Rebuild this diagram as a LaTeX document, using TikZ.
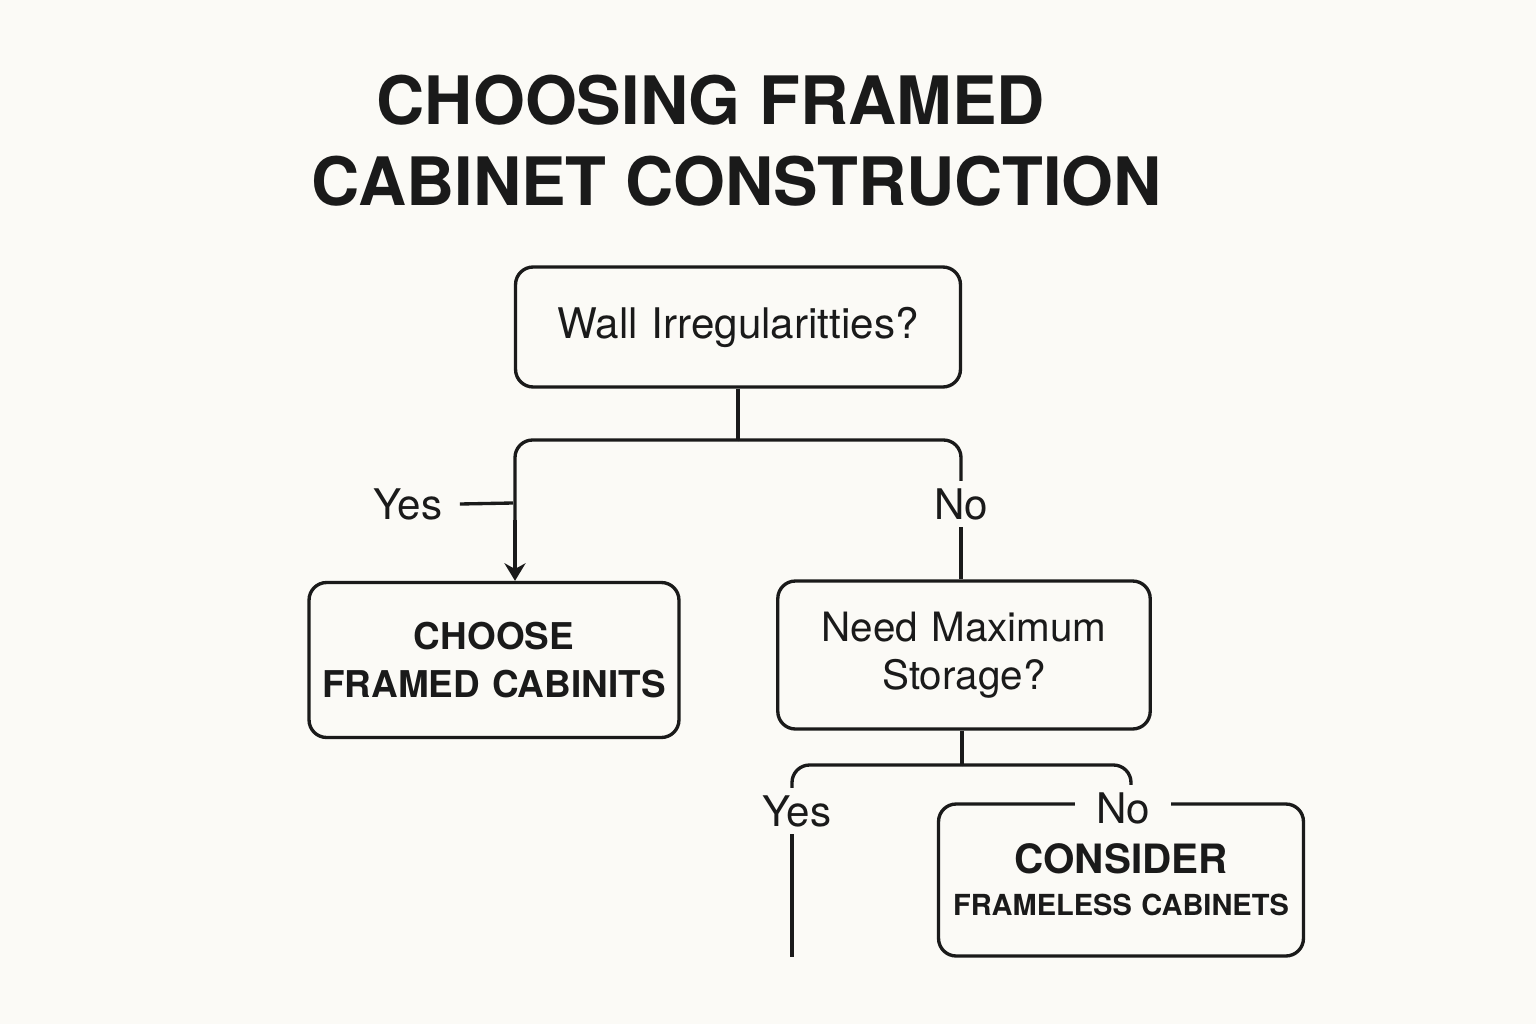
\documentclass[tikz,border=0pt]{standalone}
\usepackage{fontspec}
\setmainfont{TeX Gyre Heros}
\usepackage{xcolor}
\definecolor{paper}{HTML}{FBFAF6}
\definecolor{ink}{HTML}{1A1A1A}
\usetikzlibrary{arrows.meta,positioning}

\begin{document}
\begin{tikzpicture}[x=0.02cm,y=-0.02cm,->,>={Stealth[length=10pt,width=12pt]},line width=1.9pt,draw=ink]
              \tikzstyle{box}=[draw=ink,rounded corners=10pt,line width=1.9pt,inner sep=0pt,align=center,text=ink]
              \tikzstyle{lbl}=[text=ink,font=\fontsize{24}{28}\selectfont]
              \tikzstyle{e}=[-,draw=ink,rounded corners=10pt]

              \fill[paper] (0,0) rectangle (1536,1024);
              \useasboundingbox (0,0) rectangle (1536,1024);

              \node[text=ink,font=\fontsize{38}{46}\bfseries\selectfont,align=center] (T) at (737,141)
                   {\hspace*{-30pt}CHOOSING FRAMED\\CABINET CONSTRUCTION};

              \node[box,text width=8.9cm,minimum height=2.4cm,font=\fontsize{24}{28}\selectfont] (W) at (738,327) {Wall Irregularitties?};
              \node[box,text width=7.4cm,minimum height=3.1cm,font=\fontsize{21}{27}\bfseries\selectfont] (C) at (494,660) {CHOOSE\\FRAMED CABINITS};
              \node[box,text width=7.45cm,minimum height=2.96cm,font=\fontsize{23}{27}\selectfont] (N) at (964,655) {Need Maximum\\Storage?};
              \node[box,text width=7.3cm,minimum height=3.04cm,font=\fontsize{16.5}{24}\bfseries\selectfont] (F) at (1121,880)
                   {{\fontsize{23}{24}\selectfont CONSIDER}\\FRAMELESS CABINETS};

              \node[lbl] (Y1) at (408,504) {Yes};
              \node[lbl] (N1) at (961,504) {No};
              \node[lbl] (Y2) at (797,811) {Yes};
              \node[lbl,fill=paper,inner xsep=12pt] (N2) at (1123,808) {No};

              \coordinate (J1) at (738,440);
              \coordinate (J2) at (962,765);
              \coordinate (E) at (792,957);

              \draw[e] (W.south) -- (J1);
              \draw[e] (J1) -| (515,520);
              \draw[->] (515,520) -- (C.north -| 515,0);
              \draw[e] (Y1.east) ++(10,0) -- (513,503);
              \draw[e] (J1) -| (N1.north);
              \draw[e] (N1.south) -- (N.north -| N1);
              \draw[e] (N.south -| J2) -- (J2);
              \draw[e] (J2) -| (Y2.north -| E);
              \draw[e] (J2) -| (N2.north -| 1131,0);
              \draw[e] (Y2.south -| E) -- (E);

       \end{tikzpicture}
\end{document}
